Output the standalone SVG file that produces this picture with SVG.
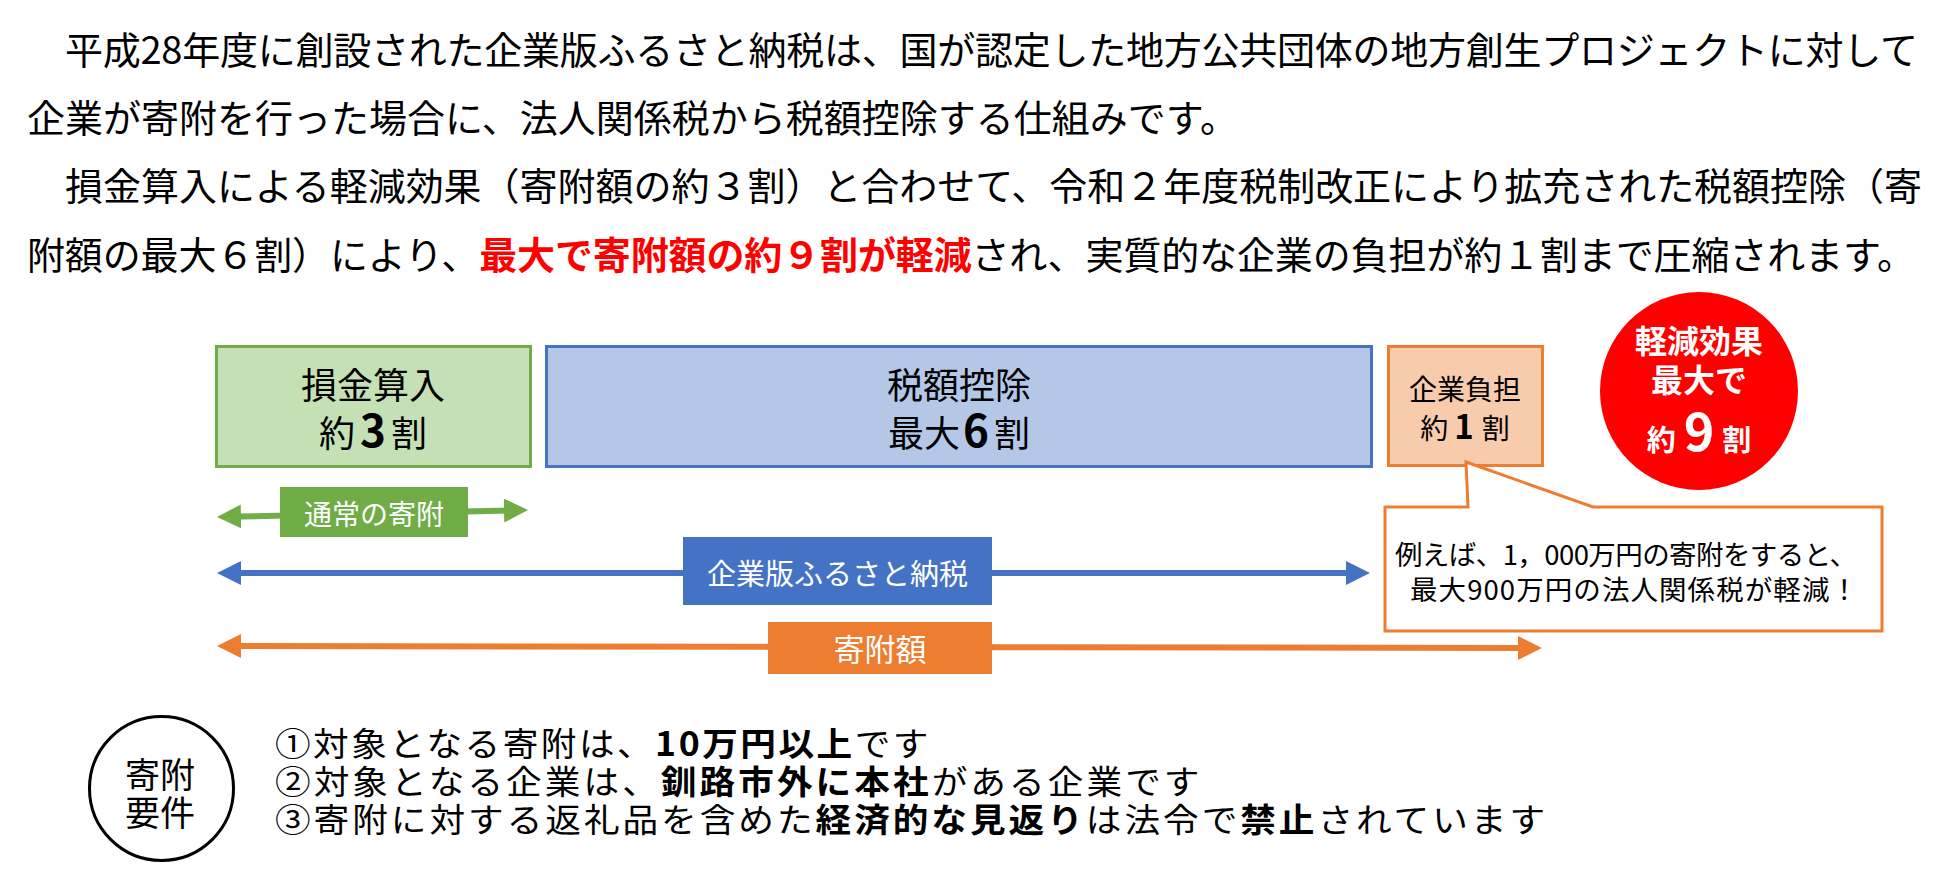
<svg xmlns="http://www.w3.org/2000/svg" width="1950" height="889" viewBox="0 0 1950 889">
<style>
text{font-family:"Noto Sans CJK JP","Noto Sans",sans-serif;fill:#000}
.p{font-size:38px}
.red{fill:#FF0000;font-weight:bold}
.box{font-size:36px}
.big{font-weight:bold}
.w{fill:#fff}
.wb{fill:#fff;font-weight:bold}
.b{font-weight:bold}
.req{font-size:33px}
</style>
<defs>
<marker id="ahG" viewBox="0 0 24 24" refX="14" refY="12" markerWidth="24" markerHeight="24" markerUnits="userSpaceOnUse" orient="auto-start-reverse"><path d="M0,0 L24,12 L0,24 Z" fill="#70AD47"/></marker>
<marker id="ahB" viewBox="0 0 24 24" refX="14" refY="12" markerWidth="24" markerHeight="24" markerUnits="userSpaceOnUse" orient="auto-start-reverse"><path d="M0,0 L24,12 L0,24 Z" fill="#4472C4"/></marker>
<marker id="ahO" viewBox="0 0 24 24" refX="14" refY="12" markerWidth="24" markerHeight="24" markerUnits="userSpaceOnUse" orient="auto-start-reverse"><path d="M0,0 L24,12 L0,24 Z" fill="#ED7D31"/></marker>
</defs>
<rect width="1950" height="889" fill="#fff"/>

<g id="intro">
<text class="p" x="65" y="64" textLength="1853" lengthAdjust="spacing">平成28年度に創設された企業版ふるさと納税は、国が認定した地方公共団体の地方創生プロジェクトに対して</text>
<text class="p" x="27" y="132">企業が寄附を行った場合に、法人関係税から税額控除する仕組みです。</text>
<text class="p" x="65" y="200" textLength="1857" lengthAdjust="spacing">損金算入による軽減効果（寄附額の約３割）と合わせて、令和２年度税制改正により拡充された税額控除（寄</text>
<text class="p" x="27" y="269" textLength="1888" lengthAdjust="spacing">附額の最大６割）により、<tspan class="red">最大で寄附額の約９割が軽減</tspan>され、実質的な企業の負担が約１割まで圧縮されます。</text>
</g>

<g id="node-sonkin">
<rect x="216.5" y="346.5" width="314" height="120" fill="#C5E0B4" stroke="#70AD47" stroke-width="3"/>
<text class="box" x="373" y="399" text-anchor="middle">損金算入</text>
<text class="box" x="373" y="447" text-anchor="middle">約<tspan class="big" font-size="44" dx="5">3</tspan><tspan dx="5">割</tspan></text>
</g>

<g id="node-zeigaku">
<rect x="546.5" y="346.5" width="825" height="120" fill="#B4C7E7" stroke="#4472C4" stroke-width="3"/>
<text class="box" x="959" y="399" text-anchor="middle">税額控除</text>
<text class="box" x="959" y="447" text-anchor="middle">最大<tspan class="big" font-size="44" dx="3">6</tspan><tspan dx="5">割</tspan></text>
</g>

<g id="node-futan">
<rect x="1388.5" y="346.5" width="154" height="119" fill="#F8CBAD" stroke="#ED7D31" stroke-width="3"/>
<text x="1465" y="400" font-size="28" text-anchor="middle">企業負担</text>
<text x="1465" y="439" font-size="28" text-anchor="middle">約<tspan class="big" font-size="33" dx="6">1</tspan><tspan dx="8">割</tspan></text>
</g>

<g id="node-effect">
<circle cx="1699" cy="391" r="99" fill="#FF0000"/>
<text class="wb" x="1699" y="353" font-size="32" text-anchor="middle">軽減効果</text>
<text class="wb" x="1699" y="392" font-size="32" text-anchor="middle">最大で</text>
<text class="wb" x="1699" y="451" font-size="29" text-anchor="middle">約<tspan font-size="52" dx="8">9</tspan><tspan dx="8">割</tspan></text>
</g>

<g id="connectors">
<line x1="227" y1="516.8" x2="518" y2="510.2" stroke="#70AD47" stroke-width="6" marker-start="url(#ahG)" marker-end="url(#ahG)"/>
<line x1="227" y1="573" x2="1360" y2="573" stroke="#4472C4" stroke-width="6" marker-start="url(#ahB)" marker-end="url(#ahB)"/>
<line x1="227" y1="646" x2="1532" y2="648" stroke="#ED7D31" stroke-width="6" marker-start="url(#ahO)" marker-end="url(#ahO)"/>
<g id="label-normal">
<rect x="280" y="487" width="188" height="50" fill="#70AD47"/>
<text class="w" x="374" y="525" font-size="28" text-anchor="middle">通常の寄附</text>
</g>
<g id="label-kigyoban">
<rect x="683" y="537" width="309" height="68" fill="#4472C4"/>
<text class="w" x="837.5" y="585" font-size="29" text-anchor="middle">企業版ふるさと納税</text>
</g>
<g id="label-kifugaku">
<rect x="768" y="622" width="224" height="52" fill="#ED7D31"/>
<text class="w" x="880" y="661" font-size="31" text-anchor="middle">寄附額</text>
</g>
</g>

<g id="node-callout">
<path d="M1385,507 L1468,507 L1466,462 L1593,507 L1882,507 L1882,631 L1385,631 Z" fill="#fff" stroke="#ED7D31" stroke-width="3" stroke-linejoin="miter"/>
<text x="1395" y="565" font-size="27.5" textLength="462" lengthAdjust="spacing">例えば、1，000万円の寄附をすると、</text>
<text x="1410" y="600" font-size="27.5" textLength="448" lengthAdjust="spacing">最大900万円の法人関係税が軽減！</text>
</g>

<g id="node-requirements">
<circle cx="161.5" cy="788.5" r="72" fill="none" stroke="#000" stroke-width="3"/>
<text x="160" y="788" font-size="35" text-anchor="middle">寄附</text>
<text x="160" y="826" font-size="35" text-anchor="middle">要件</text>
</g>

<g id="requirements-list" transform="translate(275 0) scale(1.08 1)">
<text class="req" x="0" y="756" textLength="605" lengthAdjust="spacing">①対象となる寄附は、<tspan class="b">10万円以上</tspan>です</text>
<text class="req" x="0" y="794" textLength="856" lengthAdjust="spacing">②対象となる企業は、<tspan class="b">釧路市外に本社</tspan>がある企業です</text>
<text class="req" x="0" y="832" textLength="1176" lengthAdjust="spacing">③寄附に対する返礼品を含めた<tspan class="b">経済的な見返り</tspan>は法令で<tspan class="b">禁止</tspan>されています</text>
</g>
</svg>
